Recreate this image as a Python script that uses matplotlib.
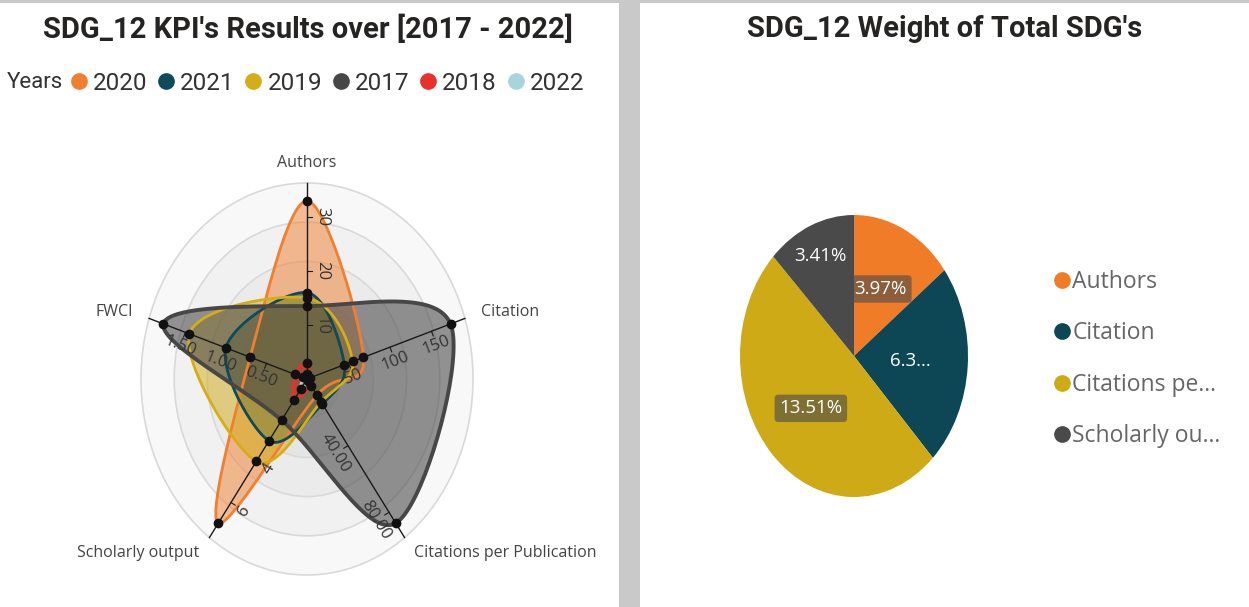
import numpy as np
import matplotlib
matplotlib.use("Agg")
import matplotlib.pyplot as plt
from matplotlib.patches import Ellipse, Rectangle
from matplotlib.lines import Line2D

# radar data (one list per year, in axis order)
categories = ["Authors", "Citation", "Citations per Publication", "Scholarly output", "FWCI"]
years = ["2020", "2021", "2019", "2017", "2018", "2022"]
vals_2020 = [33, 68, 9.7, 7, 0.7]
vals_2021 = [16, 45, 15, 3, 1.0]
vals_2019 = [15, 55, 13.8, 4, 1.45]
vals_2017 = [13.5, 173, 86.5, 2, 1.77]
vals_2018 = [3, 4, 4, 1, 0.15]
vals_2022 = [1, 1, 1, 0.5, 0.05]
year_colors = ["#F07F2F", "#0E4A5A", "#D5AD14", "#474747", "#E8302C", "#A8D4DC"]

axis_ticks = [[10, 20, 30], [50, 100, 150], [40, 80], [4, 6], [0.5, 1.0, 1.5]]
axis_tick_labels = [["10", "20", "30"], ["50", "100", "150"], ["40.00", "80.00"],
                    ["4", "6"], ["0.50", "1.00", "1.50"]]

# pie data
pie_names = ["Authors", "Citation", "Citations pe...", "Scholarly ou..."]
pie_values = [3.97, 6.33, 13.51, 3.41]
pie_texts = ["3.97%", "6.3...", "13.51%", "3.41%"]
pie_colors = ["#F07C28", "#0D4654", "#CEAA16", "#4A4A4A"]

W, H = 1249, 607
fig = plt.figure(figsize=(W / 100, H / 100), dpi=100)
fig.patch.set_facecolor("#C9C9C9")
fig.patches.append(Rectangle((0, 0), 619 / W, 1 - 3 / H, transform=fig.transFigure,
                             facecolor="white", edgecolor="none", zorder=-10))
fig.patches.append(Rectangle((640 / W, 0), 1 - 640 / W, 1 - 3 / H, transform=fig.transFigure,
                             facecolor="white", edgecolor="none", zorder=-10))

title_font = "Roboto"
body_font = "Open Sans"

fig.text(308 / W, 1 - 29 / H, "SDG_12 KPI's Results over [2017 - 2022]", ha="center", va="center",
         fontsize=21, fontweight="bold", family=title_font, color="#252423")
fig.text(945 / W, 1 - 29 / H, "SDG_12 Weight of Total SDG's", ha="center", va="center",
         fontsize=21, fontweight="bold", family=title_font, color="#252423")

# ---- radar ----
ax = fig.add_axes([0, 0, 619 / W, 1])
ax.set_xlim(0, 619)
ax.set_ylim(H, 0)
ax.axis("off")

cx, cy, rx, ry = 307, 379, 166, 196
angles = np.radians([90, 18, -54, -126, 162])
series = [vals_2020, vals_2021, vals_2019, vals_2017, vals_2018, vals_2022]
axis_max = [1.1 * max(s[i] for s in series) for i in range(len(categories))]


def to_xy(frac, ang):
    return cx + frac * rx * np.cos(ang), cy - frac * ry * np.sin(ang)


def closed_spline(pts, n=40):
    P = np.asarray(pts, dtype=float)
    k = len(P)
    t = np.linspace(0, 1, n, endpoint=False)[:, None]
    h00 = 2 * t**3 - 3 * t**2 + 1
    h10 = t**3 - 2 * t**2 + t
    h01 = -2 * t**3 + 3 * t**2
    h11 = t**3 - t**2
    out = []
    for i in range(k):
        p0, p1, p2, p3 = P[(i - 1) % k], P[i], P[(i + 1) % k], P[(i + 2) % k]
        m1 = (p2 - p0) * 0.5
        m2 = (p3 - p1) * 0.5
        out.append(h00 * p1 + h10 * m1 + h01 * p2 + h11 * m2)
    return np.vstack(out)


# rings
for f in [1.0, 0.8, 0.6, 0.4, 0.2]:
    ax.add_patch(Ellipse((cx, cy), 2 * f * rx, 2 * f * ry, facecolor="#7F7F7F", alpha=0.05,
                         edgecolor="none", zorder=1))
    ax.add_patch(Ellipse((cx, cy), 2 * f * rx, 2 * f * ry, facecolor="none",
                         edgecolor="#D9D9D9", lw=1.2, zorder=1))

# series
for vals, col in zip(series, year_colors):
    pts = [to_xy(v / m, a) for v, m, a in zip(vals, axis_max, angles)]
    curve = closed_spline(pts)
    is_gray = col == "#474747"
    ax.fill(curve[:, 0], curve[:, 1], color=col, alpha=0.58 if is_gray else 0.5, lw=0, zorder=2)
    ax.plot(np.append(curve[:, 0], curve[0, 0]), np.append(curve[:, 1], curve[0, 1]),
            color=col, lw=2.8 if is_gray else 2.0, zorder=3)

# axis lines, ticks, labels
label_align = [("center", "center"), ("left", "center"), ("left", "center"),
               ("right", "center"), ("right", "center")]
tick_side = [1, 1, 1, -1, -1]
for i, (a, name) in enumerate(zip(angles, categories)):
    x0, y0 = to_xy(0, a)
    x1, y1 = to_xy(1.0, a)
    ax.plot([x0, x1], [y0, y1], color="#1A1A1A", lw=1.0, zorder=4)
    lx, ly = to_xy(1.1, a)
    ha, va = label_align[i]
    ax.text(lx, ly, name, ha=ha, va=va, fontsize=11.5, family=body_font, color="#444444")
    d = np.array([x1 - x0, y1 - y0])
    d = d / np.hypot(*d)
    p = np.array([-d[1], d[0]]) * tick_side[i]
    rot = np.degrees(np.arctan2(-d[1], d[0]))
    if rot >= 90:
        rot -= 180
    if rot < -90:
        rot += 180
    for tv, tl in zip(axis_ticks[i], axis_tick_labels[i]):
        tx, ty = to_xy(tv / axis_max[i], a)
        ax.plot([tx, tx + p[0] * 5], [ty, ty + p[1] * 5], color="#1A1A1A", lw=0.8, zorder=4)
        ax.text(tx + p[0] * 15, ty + p[1] * 15, tl, ha="center", va="center", rotation=rot,
                rotation_mode="anchor", fontsize=12, family=body_font, color="#333333", zorder=5)

# markers
for vals in series:
    for v, m, a in zip(vals, axis_max, angles):
        x, y = to_xy(v / m, a)
        ax.plot(x, y, "o", color="#111111", ms=6, zorder=6)

# years legend
fig.text(7 / W, 1 - 83 / H, "Years", ha="left", va="center", fontsize=16,
         family=title_font, color="#333333")
handles = [Line2D([], [], marker="o", ls="none", color=c, ms=11) for c in year_colors]
fig.legend(handles, years, loc="center left", bbox_to_anchor=(72 / W, 1 - 83 / H), ncol=6,
           frameon=False, handlelength=0.55, handletextpad=0.3, columnspacing=0.5,
           borderpad=0, borderaxespad=0, prop={"family": title_font, "size": 17.5},
           labelcolor="#333333")

# ---- pie ----
pcx, pcy, prx, pry = 854, 356, 114, 141
pw, ph = 2.5 * prx, 2.5 * pry
axp = fig.add_axes([(pcx - pw / 2) / W, 1 - (pcy + ph / 2) / H, pw / W, ph / H])
wedges, _ = axp.pie(pie_values, colors=pie_colors, startangle=90, counterclock=False,
                    wedgeprops=dict(linewidth=0))
axp.set_aspect("auto")
axp.set_xlim(-1.25, 1.25)
axp.set_ylim(-1.25, 1.25)

label_r = [0.53, 0.5, 0.53, 0.77]
label_box = [True, False, True, False]
for w, txt, r, box in zip(wedges, pie_texts, label_r, label_box):
    mid = np.radians((w.theta1 + w.theta2) / 2)
    bb = dict(boxstyle="round,pad=0.25,rounding_size=0.2", fc="#4A4A4A", ec="none", alpha=0.6) if box else None
    axp.text(r * np.cos(mid), r * np.sin(mid), txt, ha="center", va="center", fontsize=13.5,
             family=body_font, color="white", bbox=bb)

phandles = [Line2D([], [], marker="o", ls="none", color=c, ms=11) for c in pie_colors]
fig.legend(phandles, pie_names, loc="upper left", bbox_to_anchor=(1055 / W, 1 - 270 / H),
           frameon=False, handlelength=0.6, handletextpad=0.15, labelspacing=1.2,
           borderpad=0, borderaxespad=0, prop={"family": body_font, "size": 16.5},
           labelcolor="#666666")

fig.savefig("out.png", dpi=100, facecolor=fig.get_facecolor())
